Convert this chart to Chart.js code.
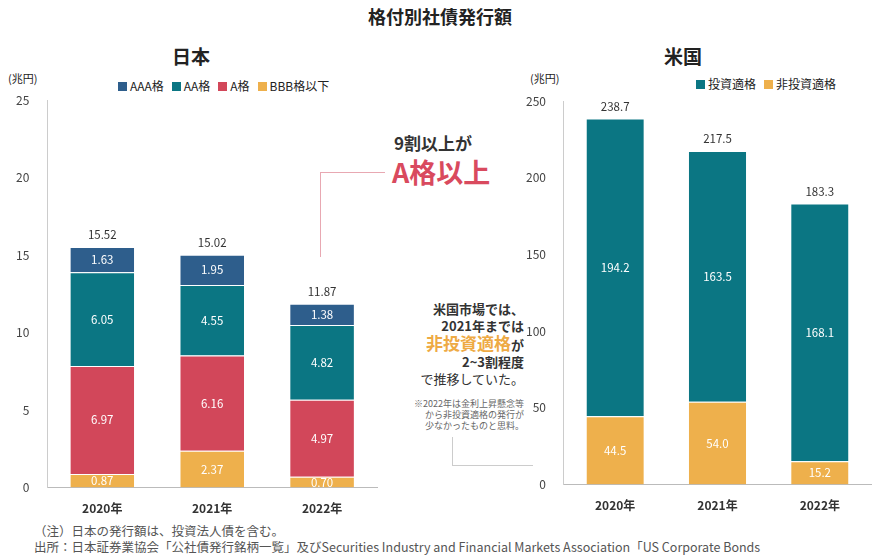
<!DOCTYPE html>
<html><head><meta charset="utf-8">
<script src="https://cdn.jsdelivr.net/npm/chart.js"></script>
<style>
  body { margin:0; width:880px; height:558px; background:#fff; font-family:"Noto Sans CJK JP","Noto Sans",sans-serif; color:#222; position:relative; overflow:hidden; }
  .abs { position:absolute; white-space:nowrap; }
  .lg span.b { display:inline-block; width:9px; height:9px; margin:0 3px 0 8px; vertical-align:0; }
  .lg { font-size:12px; }
</style></head>
<body>
<div class="abs" style="left:0;width:880px;top:3px;text-align:center;font-size:18px;font-weight:bold;">格付別社債発行額</div>
<div class="abs" style="left:172px;top:42px;font-size:19px;font-weight:bold;">日本</div>
<div class="abs" style="left:664px;top:42px;font-size:19px;font-weight:bold;">米国</div>
<div class="abs" style="left:8px;top:70px;font-size:11px;">(兆円)</div>
<div class="abs" style="left:530px;top:70px;font-size:11px;">(兆円)</div>
<div class="abs lg" style="left:110px;top:77px;"><span class="b" style="background:#2e5e8c"></span>AAA格<span class="b" style="background:#0b7683"></span>AA格<span class="b" style="background:#d2475a"></span>A格<span class="b" style="background:#eeb04c"></span>BBB格以下</div>
<div class="abs lg" style="left:688px;top:75px;"><span class="b" style="background:#0b7683"></span>投資適格<span class="b" style="background:#eeb04c"></span>非投資適格</div>

<div class="abs" style="left:394px;top:130px;font-size:17px;font-weight:bold;color:#333;">9割以上が</div>
<div class="abs" style="left:392px;top:152px;font-size:27px;font-weight:bold;color:#d94a5e;">A格以上</div>
<div class="abs" style="left:320px;top:172px;width:64px;height:84px;border-left:1px solid #e8a8b2;border-top:1px solid #e8a8b2;"></div>

<div class="abs" style="left:386px;top:300px;width:138px;text-align:right;font-size:13px;font-weight:bold;line-height:17px;color:#333;">米国市場では、<br>2021年までは<br><span style="color:#eeaa44;font-size:17px;">非投資適格</span>が<br>2~3割程度<br><span style="font-weight:normal">で推移していた。</span></div>
<div class="abs" style="left:380px;top:398px;width:144px;text-align:right;font-size:9px;line-height:11px;color:#666;">※2022年は金利上昇懸念等<br>から非投資適格の発行が<br>少なかったものと思料。</div>
<div class="abs" style="left:452px;top:437px;width:80px;height:28px;border-left:1px solid #ccc;border-bottom:1px solid #ccc;"></div>

<div class="abs" style="left:34px;top:521px;font-size:12.5px;color:#555;">（注）日本の発行額は、投資法人債を含む。</div>
<div class="abs" style="left:34px;top:537px;font-size:12.5px;color:#555;">出所：日本証券業協会「公社債発行銘柄一覧」及びSecurities Industry and Financial Markets Association「US Corporate Bonds</div>

<canvas id="jp" class="abs" style="left:0;top:83px;width:383px;height:439px;"></canvas>
<canvas id="us" class="abs" style="left:516px;top:84px;width:361px;height:435px;"></canvas>
<script>
const jpYears = ['2020年', '2021年', '2022年'];
const jpAAA = [1.63, 1.95, 1.38];
const jpAA = [6.05, 4.55, 4.82];
const jpA = [6.97, 6.16, 4.97];
const jpBBB = [0.87, 2.37, 0.70];
const jpTotal = [15.52, 15.02, 11.87];

const usYears = ['2020年', '2021年', '2022年'];
const usInvest = [194.2, 163.5, 168.1];
const usHigh = [44.5, 54.0, 15.2];
const usTotal = [238.7, 217.5, 183.3];

const FONT = '"Noto Sans CJK JP","Noto Sans",sans-serif';
Chart.defaults.font.family = FONT;
Chart.defaults.color = '#333';

// draws segment values inside bars and the totals on top
const labelsPlugin = {
  id: 'labels',
  afterDatasetsDraw(chart, args, opts) {
    const ctx = chart.ctx;
    ctx.save();
    ctx.font = '11.5px ' + FONT;
    ctx.textAlign = 'center';
    ctx.textBaseline = 'middle';
    chart.data.datasets.forEach((ds, i) => {
      chart.getDatasetMeta(i).data.forEach((bar, j) => {
        const v = ds.data[j];
        ctx.fillStyle = '#fff';
        ctx.fillText(v.toFixed(opts.digits), bar.x, (bar.y + bar.base) / 2);
      });
    });
    const top = chart.getDatasetMeta(chart.data.datasets.length - 1).data;
    ctx.fillStyle = '#333';
    opts.totals.forEach((t, j) => ctx.fillText(t.toFixed(opts.digits), top[j].x, chart.scales.y.getPixelForValue(t) - 12));
    ctx.restore();
  }
};

const axisX = {
  stacked: true,
  grid: { display: false },
  border: { color: '#bbb' },
  ticks: { font: { size: 12, weight: 'bold' }, color: '#333', padding: 6 }
};
const axisY = (max, step) => ({
  stacked: true, min: 0, max: max,
  grid: { display: false },
  border: { color: '#ccc' },
  ticks: { stepSize: step, font: { size: 12 }, color: '#444', padding: 10 }
});

new Chart(document.getElementById('jp'), {
  type: 'bar',
  data: {
    labels: jpYears,
    datasets: [
      { label: 'BBB格以下', data: jpBBB, backgroundColor: '#eeb04c' },
      { label: 'A格', data: jpA, backgroundColor: '#d2475a' },
      { label: 'AA格', data: jpAA, backgroundColor: '#0b7683' },
      { label: 'AAA格', data: jpAAA, backgroundColor: '#2e5e8c' }
    ]
  },
  options: {
    responsive: false, animation: false,
    layout: { padding: { top: 0, left: 6, right: 6 } },
    datasets: { bar: { categoryPercentage: 1, barPercentage: 0.58, borderColor: '#fff', borderWidth: { top: 1 } } },
    plugins: { legend: { display: false }, tooltip: { enabled: false }, labels: { digits: 2, totals: jpTotal } },
    scales: { x: axisX, y: axisY(25, 5) }
  },
  plugins: [labelsPlugin]
});

new Chart(document.getElementById('us'), {
  type: 'bar',
  data: {
    labels: usYears,
    datasets: [
      { label: '非投資適格', data: usHigh, backgroundColor: '#eeb04c' },
      { label: '投資適格', data: usInvest, backgroundColor: '#0b7683' }
    ]
  },
  options: {
    responsive: false, animation: false,
    layout: { padding: { top: 0, left: 0, right: 6 } },
    datasets: { bar: { categoryPercentage: 1, barPercentage: 0.56, borderColor: '#fff', borderWidth: { top: 1 } } },
    plugins: { legend: { display: false }, tooltip: { enabled: false }, labels: { digits: 1, totals: usTotal } },
    scales: { x: axisX, y: axisY(250, 50) }
  },
  plugins: [labelsPlugin]
});
</script>
</body></html>
